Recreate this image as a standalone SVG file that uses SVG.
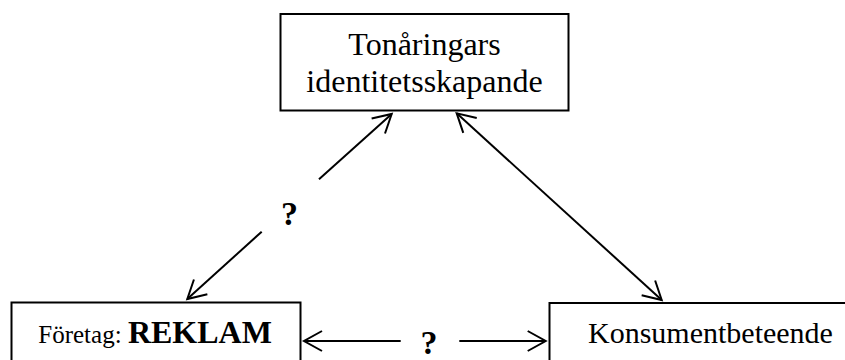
<svg xmlns="http://www.w3.org/2000/svg" width="845" height="360" viewBox="0 0 845 360">
  <style>
    .box { fill: #fff; stroke: #000; stroke-width: 2; }
    .lbl { font-family: "Liberation Serif", "Times New Roman", serif; fill: #000; }
    .conn { stroke: #000; stroke-width: 2; fill: none; }
    .q { font-family: "Liberation Serif", "Times New Roman", serif; font-weight: bold; font-size: 34px; text-anchor: middle; fill: #000; }
  </style>
  <defs>
    <marker id="arr" markerUnits="userSpaceOnUse" markerWidth="26" markerHeight="26" viewBox="-22 -13 26 26" refX="0" refY="0" orient="auto-start-reverse" overflow="visible">
      <path d="M-18,-10 L0,0 L-18,10" fill="none" stroke="#000" stroke-width="2"/>
    </marker>
  </defs>
  <rect width="845" height="360" fill="#fff"/>

  <g id="connectors">
    <!-- Företag -> Tonåringars (split around the label) -->
    <line class="conn" x1="319" y1="179.3" x2="391.7" y2="114" marker-end="url(#arr)"/>
    <line class="conn" x1="261.7" y1="231.7" x2="187.3" y2="299" marker-end="url(#arr)"/>
    <text class="q" x="289.5" y="225">?</text>
    <!-- Tonåringars <-> Konsumentbeteende -->
    <line class="conn" x1="456.7" y1="113.3" x2="661.7" y2="300" marker-start="url(#arr)" marker-end="url(#arr)"/>
    <!-- Företag <-> Konsumentbeteende (split around the label) -->
    <line class="conn" x1="400.7" y1="341" x2="304" y2="341" marker-end="url(#arr)"/>
    <line class="conn" x1="459.3" y1="341" x2="545.7" y2="341" marker-end="url(#arr)"/>
    <text class="q" x="429" y="354">?</text>
  </g>

  <g id="node-identitet">
    <rect class="box" x="280.5" y="14" width="288" height="96.5"/>
    <text class="lbl" x="424.5" y="55" font-size="32" text-anchor="middle">Tonåringars</text>
    <text class="lbl" x="424.5" y="91.5" font-size="32" text-anchor="middle">identitetsskapande</text>
  </g>

  <g id="node-reklam">
    <rect class="box" x="11.5" y="302.5" width="289" height="80"/>
    <text class="lbl" x="38.3" y="343.3"><tspan font-size="25">Företag: </tspan><tspan font-size="32" font-weight="bold">REKLAM</tspan></text>
  </g>

  <g id="node-konsument">
    <rect class="box" x="549.5" y="303" width="320" height="80"/>
    <text class="lbl" x="588" y="343.3" font-size="30">Konsumentbeteende</text>
  </g>
</svg>
